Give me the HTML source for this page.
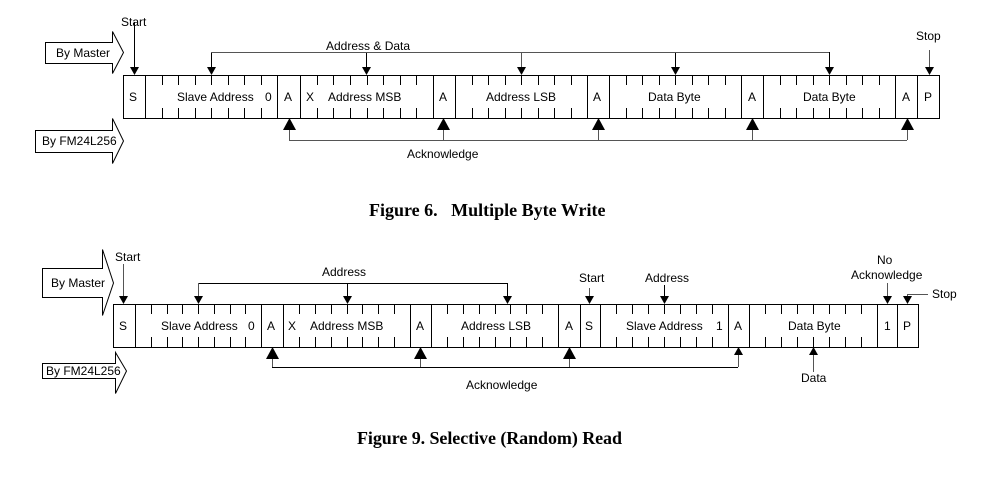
<!DOCTYPE html>
<html><head><meta charset="utf-8"><style>
html,body{margin:0;padding:0;background:#fff;}
svg{display:block;}
text{font-family:"Liberation Sans",Arial,sans-serif;font-size:12px;fill:#000;}
.cap{font-family:"Liberation Serif","Times New Roman",serif;font-size:18px;font-weight:bold;white-space:pre;}
</style></head><body>
<svg id="s" width="998" height="500" viewBox="0 0 998 500" xmlns="http://www.w3.org/2000/svg">
<g fill="#fff" stroke="#000" stroke-width="1">
<path d="M45.5,42.5 H112.5 V31.5 L123.5,52.5 L112.5,73.5 V63.5 H45.5 Z"/>
<path d="M35.5,130.5 H112.5 V118.5 L123.5,141 L112.5,163.5 V152.5 H35.5 Z"/>
<path d="M42.5,268.5 H102.5 V249.5 L113.5,283 L102.5,315.5 V297.5 H42.5 Z"/>
<path d="M42.5,363.5 H115.5 V352.5 L126.5,371 L115.5,393.5 V378.5 H42.5 Z"/>
</g>
<text x="56" y="57">By Master</text>
<text x="42" y="145">By FM24L256</text>
<text x="51" y="287">By Master</text>
<text x="46" y="375">By FM24L256</text>
<g id="g" stroke="#000" stroke-width="1" fill="none"></g>
<g id="c" stroke="#555" stroke-width="1" fill="none"></g>
<g id="h" fill="#000" stroke="none"></g>
<text x="121" y="26">Start</text>
<text x="916" y="40">Stop</text>
<text x="326" y="50">Address &amp; Data</text>
<text x="407" y="158">Acknowledge</text>
<text x="129" y="101">S</text>
<text x="177" y="101">Slave Address</text>
<text x="265" y="101">0</text>
<text x="284" y="101">A</text>
<text x="306" y="101">X</text>
<text x="328" y="101">Address MSB</text>
<text x="439" y="101">A</text>
<text x="486" y="101">Address LSB</text>
<text x="593" y="101">A</text>
<text x="648" y="101">Data Byte</text>
<text x="748" y="101">A</text>
<text x="803" y="101">Data Byte</text>
<text x="902" y="101">A</text>
<text x="924" y="101">P</text>
<text class="cap" x="369" y="216" xml:space="preserve">Figure 6.   Multiple Byte Write</text>
<text x="115" y="261">Start</text>
<text x="322" y="276">Address</text>
<text x="579" y="282">Start</text>
<text x="645" y="282">Address</text>
<text x="877" y="264">No</text>
<text x="851" y="279">Acknowledge</text>
<text x="932" y="298">Stop</text>
<text x="466" y="389">Acknowledge</text>
<text x="801" y="382">Data</text>
<text x="119" y="330">S</text>
<text x="161" y="330">Slave Address</text>
<text x="248" y="330">0</text>
<text x="267" y="330">A</text>
<text x="288" y="330">X</text>
<text x="310" y="330">Address MSB</text>
<text x="416" y="330">A</text>
<text x="461" y="330">Address LSB</text>
<text x="565" y="330">A</text>
<text x="585" y="330">S</text>
<text x="626" y="330">Slave Address</text>
<text x="716" y="330">1</text>
<text x="734" y="330">A</text>
<text x="788" y="330">Data Byte</text>
<text x="884" y="330">1</text>
<text x="903" y="330">P</text>
<text class="cap" x="357" y="444" textLength="265" lengthAdjust="spacing">Figure 9. Selective (Random) Read</text>
</svg>
<script>
var NS="http://www.w3.org/2000/svg";
function el(p,t,a){var e=document.createElementNS(NS,t);for(var k in a)e.setAttribute(k,a[k]);document.getElementById(p).appendChild(e);return e;}
function line(p,x1,y1,x2,y2){el(p,"line",{x1:x1,y1:y1,x2:x2,y2:y2});}
function row(x0,x1,top,bot,cells,bytes){
 el("g","rect",{x:x0+.5,y:top+.5,width:x1-x0,height:bot-top});
 cells.forEach(function(x){line("g",x+.5,top,x+.5,bot);});
 bytes.forEach(function(b){var w=(b[1]-b[0])/8;for(var i=1;i<8;i++){var x=Math.round(b[0]+w*i)+.5;line("g",x,top,x,top+10);line("g",x,bot-10,x,bot);}});
}
function down(p,x,y1,y2){line(p,x+.5,y1,x+.5,y2-7);el("h","path",{d:"M"+(x-4)+","+(y2-8)+" L"+(x+5)+","+(y2-8)+" L"+(x+.5)+","+y2+" z"});}
function upBig(x,y,ylo){line("c",x+.5,y+10,x+.5,ylo);el("h","path",{d:"M"+(x+.5)+","+y+" L"+(x-6)+","+(y+12)+" L"+(x+7)+","+(y+12)+" z"});}
function upSmall(x,y,ylo){line("c",x+.5,y+7,x+.5,ylo);el("h","path",{d:"M"+(x+.5)+","+y+" L"+(x-4)+","+(y+8)+" L"+(x+5)+","+(y+8)+" z"});}
row(123,939,75,118,[145,277,300,433,455,587,609,741,763,895,917],[[145,277],[300,433],[455,587],[609,741],[763,895]]);
down("g",134,22,75);
down("c",929,50,75);
line("c",211,52.5,829,52.5);
[211,366,521,675,829].forEach(function(x){down(x==521?"c":"g",x,52,75);});
line("c",289,140.5,907,140.5);
[289,443,598,752,907].forEach(function(x){upBig(x,118,140);});
row(113,918,304,347,[135,261,283,410,431,558,580,600,728,749,877,897],[[135,261],[283,410],[431,558],[600,728],[749,877]]);
down("c",123,264,304);
line("g",198,283.5,507,283.5);
[198,347,507].forEach(function(x){down(x==198?"c":"g",x,283,304);});
down("c",589,288,304);
down("g",664,285,304);
down("c",887,283,304);
line("c",907,294.5,928,294.5);down("c",907,294,304);
line("g",272,367.5,738,367.5);
[272,420,569].forEach(function(x){upBig(x,347,367);});
upSmall(738,347,367);
upSmall(813,347,372);
</script>
</body></html>
